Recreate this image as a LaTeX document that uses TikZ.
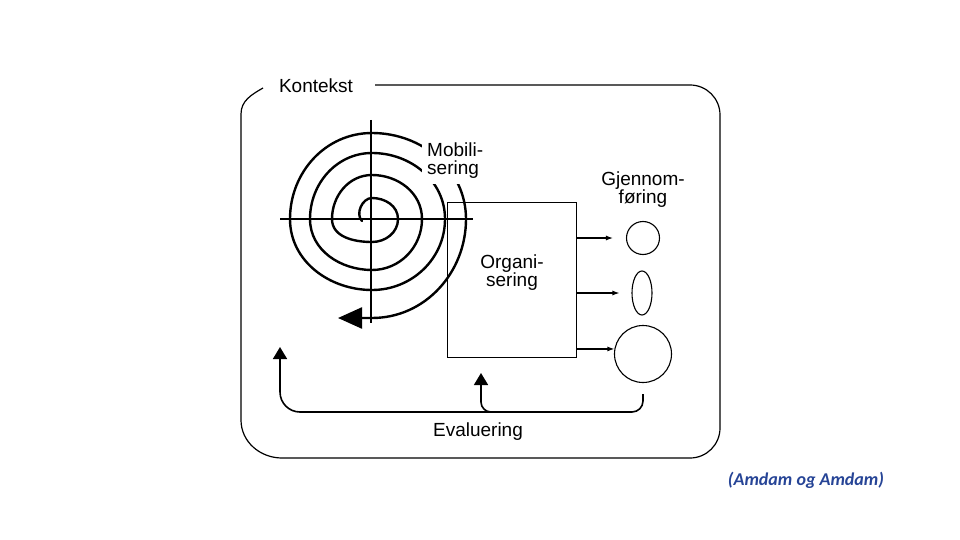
\documentclass[tikz,border=0pt]{standalone}
\usepackage{fontspec}
\setmainfont{Liberation Sans}
\newfontfamily\citefont{Carlito}
\usetikzlibrary{arrows.meta,positioning,shapes.geometric}
\definecolor{citeblue}{RGB}{38,68,150}

\begin{document}
\begin{tikzpicture}[
  x=1pt,y=-1pt,
  >=Latex,
  txt/.style={font=\fontsize{19}{18}\selectfont,align=center,inner sep=1pt},
  phase/.style={draw,line width=1.8pt,minimum width=129pt,minimum height=155pt},
  outcome/.style={draw,line width=1.1pt,inner sep=0pt},
  flow/.style={-{Latex[length=7pt,width=5pt]},line width=1.2pt},
  feedback/.style={-{Triangle[length=12pt,width=14pt]},line width=1.6pt},
  spiralline/.style={line width=2.4pt,line cap=round},
  up/.style={out=90,in=180},
  rt/.style={out=0,in=90},
  dn/.style={out=-90,in=0},
  lf/.style={out=180,in=-90}
]
  \useasboundingbox (0,0) rectangle (960,540);

  % context frame
  \node[txt] (kontekst) at (316,86) {Kontekst};
  \draw[line width=1.2pt] (375,85) -- (690,85) to[out=0,in=90] (720,115)
    -- (720,428) to[out=-90,in=0] (690,458) -- (282,458)
    to[out=180,in=-90] (241,420) -- (241,114) to[out=90,in=-150] (263,88);

  % mobilisation spiral
  \draw[line width=2.8pt] (371,120) -- (371,323);
  \draw[line width=2.8pt] (280,219) -- (473,219);
  \draw[spiralline,-{Triangle[length=24pt,width=21pt]}]
    (362,221) to[out=135,in=180] (372,198)
    to[rt] (398,219) to[dn] (372,242) to[lf] (332,219) to[up] (372,175)
    to[rt] (422,219) to[dn] (372,270) to[lf] (310,219) to[up] (372,153)
    to[rt] (445,219) to[dn] (372,290) to[lf] (290,219) to[up] (372,133)
    to[rt] (466,219) to[dn] (372,318) -- (338,318);
  \node[txt,align=left,anchor=west,fill=white,inner sep=5pt] (mob) at (422,161)
    {Mobili-\\sering};

  % organisation
  \node[phase] (org) at (512,280) {};
  \node[txt] (orgtxt) at (512,273) {Organi-\\sering};

  % implementation
  \node[txt] (gjen) at (643,190) {Gjennom-\\føring};
  \node[outcome,circle,minimum size=33pt] (c1) at (643,238) {};
  \node[outcome,ellipse,minimum width=20pt,minimum height=44pt] (c2) at (642,293) {};
  \node[outcome,circle,minimum size=57pt] (c3) at (643,354) {};

  \draw[flow] (org.east |- c1) -- ([xshift=-13pt]c1.west);
  \draw[flow] (org.east |- c2) -- ([xshift=-12pt]c2.west);
  \draw[flow] (org.east |- c3.170) -- (c3.170);

  % evaluation
  \node[txt] (eval) at (478,432) {Evaluering};
  \coordinate (evalstart) at ([yshift=-11pt]c3.south);
  \coordinate (evaljoin) at (520,412);
  \coordinate (retmob) at (280,347);
  \coordinate (retorg) at (481,373);
  \draw[feedback,rounded corners=11pt] (evalstart) |- (evaljoin)
    [rounded corners=20pt] -| (retmob);
  \draw[feedback,rounded corners=10pt] (evaljoin) -| (retorg);

  \node[font=\citefont\bfseries\itshape\fontsize{18}{20}\selectfont,text=citeblue]
    (cite) at (806,480) {(Amdam og Amdam)};
\end{tikzpicture}
\end{document}
